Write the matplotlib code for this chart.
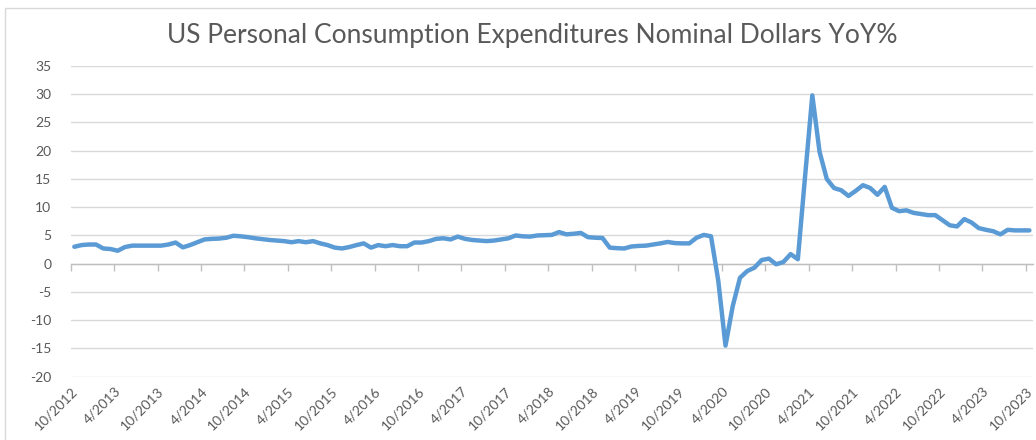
import matplotlib
matplotlib.use("Agg")
import matplotlib.pyplot as plt
from matplotlib.patches import Rectangle
import numpy as np

# Monthly PCE nominal YoY %, 10/2012 .. 10/2023
pce_yoy = [
    3.0, 3.3, 3.4, 3.4, 2.7, 2.6, 2.3, 2.95, 3.2, 3.2, 3.2, 3.2,      # 10/2012-9/2013
    3.2, 3.4, 3.75, 2.9, 3.3, 3.8, 4.3, 4.4, 4.45, 4.6, 4.95, 4.85,   # 10/2013-9/2014
    4.7, 4.5, 4.35, 4.2, 4.1, 4.0, 3.8, 4.0, 3.8, 4.0, 3.6, 3.3,      # 10/2014-9/2015
    2.85, 2.7, 2.95, 3.3, 3.6, 2.85, 3.3, 3.1, 3.3, 3.1, 3.1, 3.75,   # 10/2015-9/2016
    3.75, 4.0, 4.4, 4.5, 4.3, 4.8, 4.4, 4.2, 4.1, 4.0, 4.1, 4.3,      # 10/2016-9/2017
    4.5, 5.0, 4.85, 4.8, 5.0, 5.05, 5.1, 5.6, 5.2, 5.3, 5.45, 4.7,    # 10/2017-9/2018
    4.6, 4.55, 2.85, 2.75, 2.7, 3.05, 3.15, 3.2, 3.4, 3.6, 3.85, 3.65,  # 10/2018-9/2019
    3.6, 3.6, 4.6, 5.1, 4.85, -3.0, -14.5, -7.5, -2.5, -1.3, -0.7, 0.65,  # 10/2019-9/2020
    0.9, -0.1, 0.3, 1.7, 0.8, 15.5, 29.8, 19.8, 15.0, 13.4, 13.0, 12.0,   # 10/2020-9/2021
    12.9, 13.9, 13.4, 12.2, 13.6, 9.9, 9.3, 9.45, 9.0, 8.8, 8.6, 8.6,     # 10/2021-9/2022
    7.7, 6.8, 6.6, 7.9, 7.3, 6.3, 6.0, 5.75, 5.2, 6.0, 5.9, 5.9,          # 10/2022-9/2023
    5.9,                                                                 # 10/2023
]

tick_labels = [
    "10/2012", "4/2013", "10/2013", "4/2014", "10/2014", "4/2015",
    "10/2015", "4/2016", "10/2016", "4/2017", "10/2017", "4/2018",
    "10/2018", "4/2019", "10/2019", "4/2020", "10/2020", "4/2021",
    "10/2021", "4/2022", "10/2022", "4/2023", "10/2023",
]

y_ticks = list(range(-20, 36, 5))

plt.rcParams['font.family'] = ['Lato', 'DejaVu Sans']
text_color = '#595959'
grid_color = '#d9d9d9'
line_color = '#5b9bd5'

W, H = 1036, 440
fig = plt.figure(figsize=(W / 100, H / 100), dpi=100)

# plot area in pixels: x 70.7..1033, y 66..376.7
ax = fig.add_axes([70.7 / W, 1 - 376.7 / H, (1033 - 70.7) / W, (376.7 - 66) / H])

# categories are centred between tick marks
x = np.arange(len(pce_yoy)) + 0.5
ax.plot(x, pce_yoy, color=line_color, lw=3.2, solid_joinstyle='round',
        solid_capstyle='round', zorder=3)

ax.set_xlim(0, len(pce_yoy))
ax.set_ylim(-20, 35)
ax.set_yticks(y_ticks)
ax.set_yticklabels([str(v) for v in y_ticks])
ax.yaxis.grid(True, color=grid_color, lw=1)
ax.set_axisbelow(True)

for s in ['top', 'right', 'left']:
    ax.spines[s].set_visible(False)
ax.spines['bottom'].set_position(('data', 0))
ax.spines['bottom'].set_color('#bfbfbf')
ax.spines['bottom'].set_linewidth(1)

tick_pos = np.arange(0, len(pce_yoy), 6)
ax.set_xticks(tick_pos)
ax.tick_params(axis='x', length=5, width=1, color='#bfbfbf', labelbottom=False)
ax.tick_params(axis='y', length=0, pad=14, labelsize=10, labelcolor=text_color)

# date labels sit at the bottom of the plot area
sec = ax.secondary_xaxis('bottom')
sec.set_xticks(tick_pos)
sec.set_xticklabels(tick_labels, rotation=45, ha='right', va='top',
                    rotation_mode='anchor')
sec.tick_params(length=0, pad=6, labelsize=10, labelcolor=text_color)
sec.spines['bottom'].set_visible(False)

fig.text(532 / W, 1 - 35 / H, "US Personal Consumption Expenditures Nominal Dollars YoY%",
         ha='center', va='center', fontsize=19, color=text_color)

# chart frame
fig.add_artist(Rectangle((5 / W, -0.1), 2, 1.1 - 8 / H, transform=fig.transFigure,
                         fill=False, edgecolor=grid_color, lw=1))

fig.savefig("out.png", dpi=100)
